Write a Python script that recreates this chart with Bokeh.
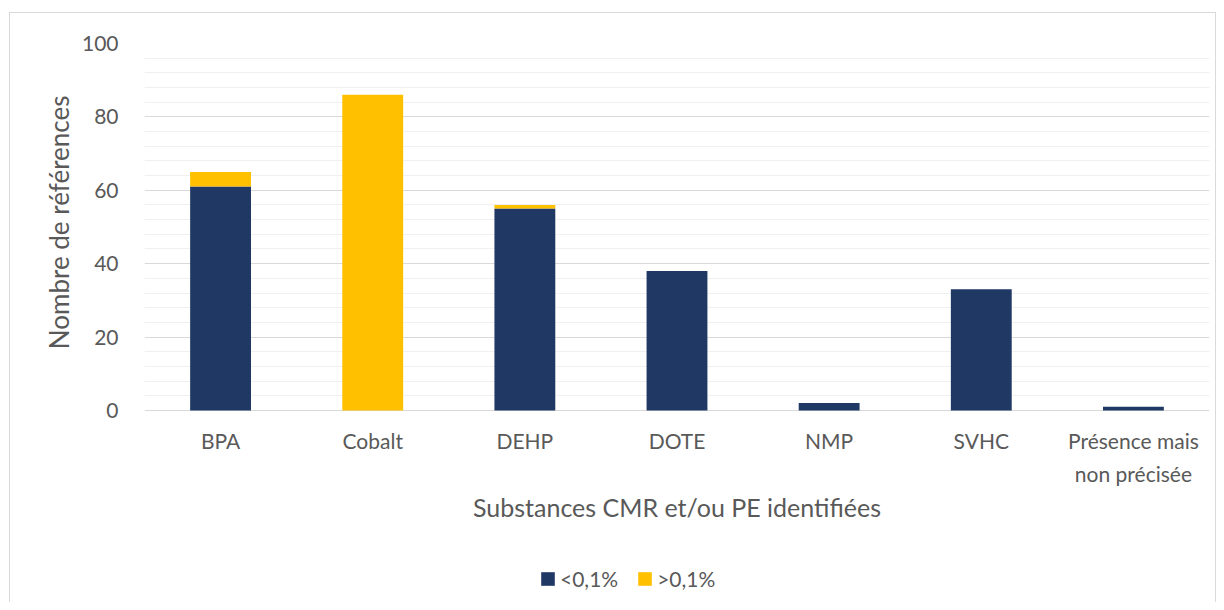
from bokeh.plotting import figure
from bokeh.models import Range1d, FactorRange, FixedTicker, Legend, LegendItem, Title
from bokeh.core.properties import value
from bokeh.embed import file_html
from bokeh.resources import INLINE

categories = ["BPA", "Cobalt", "DEHP", "DOTE", "NMP", "SVHC", "Présence mais\nnon précisée"]
below_01 = [61, 0, 55, 38, 2, 33, 1]
above_01 = [4, 86, 1, 0, 0, 0, 0]
series = ["<0,1%", ">0,1%"]
colors = ["#203864", "#FFC000"]
y_ticks = [0, 20, 40, 60, 80, 100]
y_minor = [v for v in range(0, 101, 4) if v % 20]

FONT = "Lato"
TXT = "#595959"

p = figure(x_range=FactorRange(*categories, range_padding=0), y_range=Range1d(-51.8, 100),
           frame_width=1065, frame_height=557, output_backend="svg", toolbar_location=None,
           min_border_left=134, min_border_right=6, min_border_top=30, min_border_bottom=2)
p.styles = {"border-top": "1px solid #d9d9d9", "border-left": "1px solid #d9d9d9",
            "border-right": "1px solid #d9d9d9", "margin-left": "9px", "margin-top": "12px"}
p.outline_line_color = None

data = {"cat": categories, series[0]: below_01, series[1]: above_01}
r = p.vbar_stack(series, x="cat", width=0.4, color=colors, source=data, line_color=None)

p.yaxis.ticker = FixedTicker(ticks=y_ticks, minor_ticks=y_minor)
p.ygrid.grid_line_color = "#d9d9d9"
p.ygrid.minor_grid_line_color = "#f0f0f0"
p.xgrid.grid_line_color = None
p.xaxis.visible = False

p.yaxis.major_tick_line_color = None
p.yaxis.minor_tick_line_color = None
p.yaxis.axis_line_color = None
p.yaxis.major_label_text_color = TXT
p.yaxis.major_label_text_font = FONT
p.yaxis.major_label_text_font_size = "21px"
p.yaxis.major_label_standoff = 20

# category tick labels, placed on the categorical scale just under the zero line
p.text(x=categories, y=[0] * len(categories), text=categories,
       text_font=value(FONT), text_font_size="21px", text_color=TXT,
       text_align="center", text_baseline="top", text_line_height=1.3, y_offset=18)
# x-axis title, centred on the middle category
p.text(x=[categories[3]], y=[0], text=["Substances CMR et/ou PE identifiées"],
       text_font=value(FONT), text_font_size="25px", text_color=TXT,
       text_align="center", text_baseline="middle", y_offset=97)

p.add_layout(Title(text="Nombre de références", align="right", offset=52, standoff=8,
                   text_font=FONT, text_font_size="26px", text_color=TXT,
                   text_font_style="normal"), "left")

legend = Legend(items=[LegendItem(label=series[0], renderers=[r[0]]),
                       LegendItem(label=series[1], renderers=[r[1]])],
                orientation="horizontal", location=(395, 9),
                label_text_font=FONT, label_text_font_size="21px", label_text_color=TXT,
                glyph_width=17, glyph_height=17, spacing=18, label_standoff=4,
                border_line_color=None, background_fill_alpha=0, margin=0, padding=0)
p.add_layout(legend, "center")

open("out.html", "w").write(file_html(p, INLINE))
